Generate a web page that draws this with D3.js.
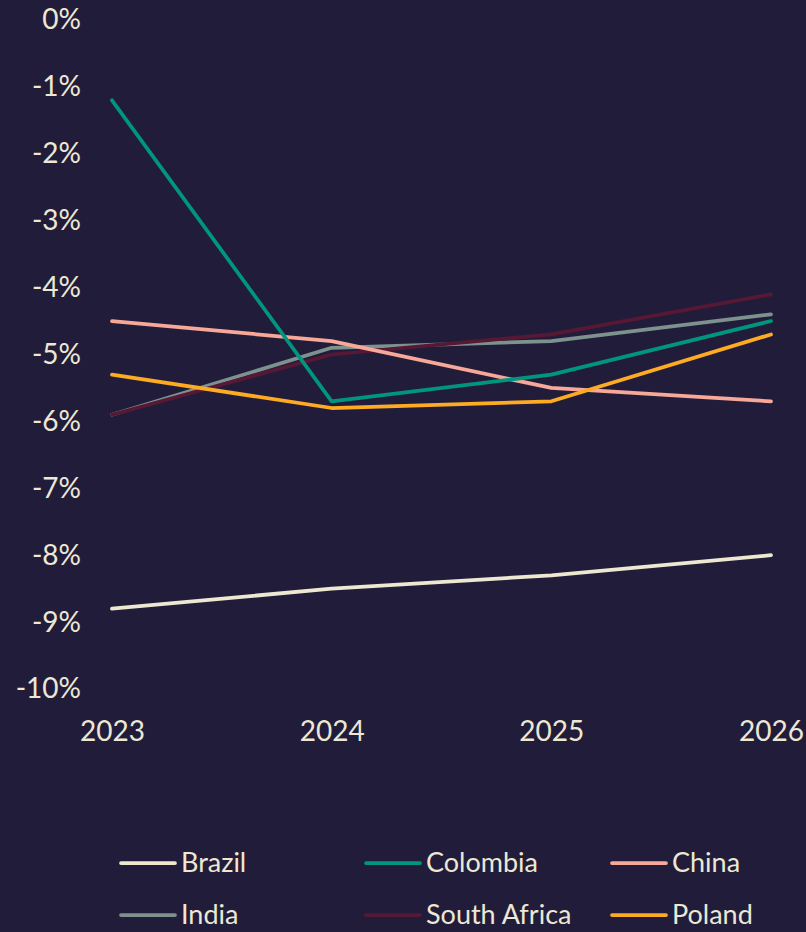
<!DOCTYPE html>
<html lang="en">
<head>
<meta charset="UTF-8">
<title>Chart</title>
<style>
html, body {
  margin: 0;
  padding: 0;
  background: #221c3b;
}
svg text {
  font-family: 'Lato', 'Open Sans', sans-serif;
  fill: #ece8d4;
}
</style>
</head>
<body>
<div id="chart"></div>
<script src="https://cdnjs.cloudflare.com/ajax/libs/d3/7.8.5/d3.min.js"></script>
<script>
var years = ['2023', '2024', '2025', '2026'];
var countries = ['Brazil', 'Colombia', 'China', 'India', 'South Africa', 'Poland'];
var brazil = [-8.8, -8.5, -8.3, -8.0];
var colombia = [-1.2, -5.7, -5.3, -4.5];
var china = [-4.5, -4.8, -5.5, -5.7];
var india = [-5.9, -4.9, -4.8, -4.4];
var southAfrica = [-5.9, -5.0, -4.7, -4.1];
var poland = [-5.3, -5.8, -5.7, -4.7];
var yTicks = [0, -1, -2, -3, -4, -5, -6, -7, -8, -9, -10];

var colors = ['#ede8d0', '#00957d', '#f8a898', '#7d918d', '#561835', '#fcab22'];
var series = [brazil, colombia, china, india, southAfrica, poland];

var width = 806, height = 932;

var svg = d3.select('#chart')
  .append('svg')
  .attr('width', width)
  .attr('height', height);

var x = d3.scalePoint()
  .domain(years)
  .range([112, 771]);

var y = d3.scaleLinear()
  .domain([-10, 0])
  .range([689, 20]);

// y axis labels
var yAxis = d3.axisLeft(y)
  .tickValues(yTicks)
  .tickFormat(function (d) { return d + '%'; })
  .tickSize(0)
  .tickPadding(0);

svg.append('g')
  .attr('transform', 'translate(81,0)')
  .call(yAxis)
  .call(function (g) { g.select('.domain').remove(); })
  .selectAll('text')
  .style('font-size', '28px')
  .attr('fill', null);

// x axis labels
var xAxis = d3.axisBottom(x)
  .tickSize(0)
  .tickPadding(0);

svg.append('g')
  .attr('transform', 'translate(0,721)')
  .call(xAxis)
  .call(function (g) { g.select('.domain').remove(); })
  .selectAll('text')
  .style('font-size', '28px')
  .attr('fill', null);

var line = d3.line()
  .x(function (d, i) { return x(years[i]); })
  .y(function (d) { return y(d); });

// draw order: brazil, india, south africa, china, colombia, poland
var order = [0, 3, 4, 2, 1, 5];
order.forEach(function (k) {
  svg.append('path')
    .datum(series[k])
    .attr('d', line)
    .attr('fill', 'none')
    .attr('stroke', colors[k])
    .attr('stroke-width', 3.75)
    .attr('stroke-linecap', 'round')
    .attr('stroke-linejoin', 'round');
});

// legend
var legendX = [121, 366, 612];
var legendY = [863, 915];

var legend = svg.selectAll('.legend')
  .data(countries)
  .enter()
  .append('g')
  .attr('class', 'legend')
  .attr('transform', function (d, i) {
    return 'translate(' + legendX[i % 3] + ',' + legendY[Math.floor(i / 3)] + ')';
  });

legend.append('line')
  .attr('x1', 0)
  .attr('x2', 54)
  .attr('y1', 0)
  .attr('y2', 0)
  .attr('stroke', function (d, i) { return colors[i]; })
  .attr('stroke-width', 3.75)
  .attr('stroke-linecap', 'round');

legend.append('text')
  .attr('x', 60)
  .attr('y', 0)
  .attr('dy', '0.35em')
  .style('font-size', '27px')
  .text(function (d) { return d; });
</script>
</body>
</html>
